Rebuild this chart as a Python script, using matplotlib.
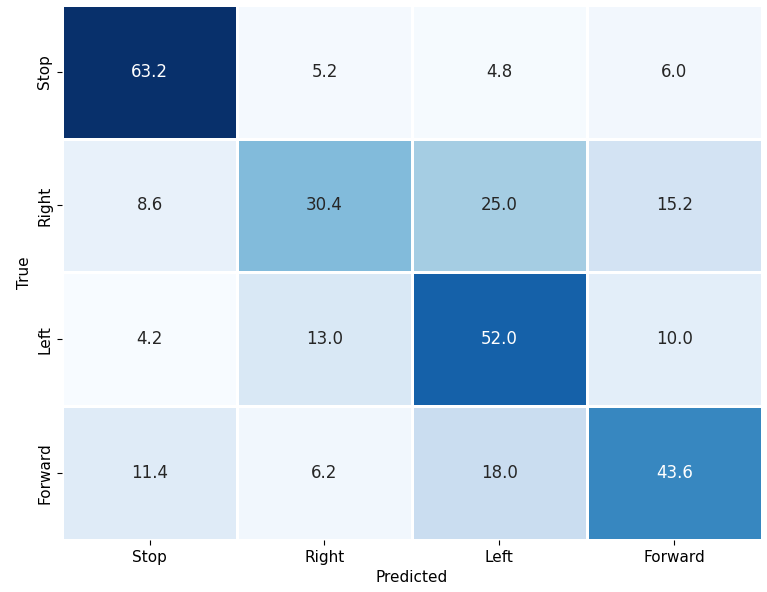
import numpy as np
import matplotlib
matplotlib.use("Agg")
import matplotlib.pyplot as plt
import seaborn as sns

labels = ["Stop", "Right", "Left", "Forward"]
values = np.array([
    [63.2, 5.2, 4.8, 6.0],
    [8.6, 30.4, 25.0, 15.2],
    [4.2, 13.0, 52.0, 10.0],
    [11.4, 6.2, 18.0, 43.6],
])

fig = plt.figure(figsize=(7.67, 5.92), dpi=100)
ax = fig.add_axes([0.081, 0.088, 0.912, 0.904])
sns.heatmap(values, annot=True, fmt=".1f", cmap="Blues", cbar=False,
            linewidths=1, linecolor="white",
            xticklabels=labels, yticklabels=labels, ax=ax,
            annot_kws={"size": 12})
ax.set_xlabel("Predicted", fontsize=11)
ax.set_ylabel("True", fontsize=11)
ax.tick_params(labelsize=11)
plt.setp(ax.get_yticklabels(), rotation=90, va="center")
fig.savefig("out.png", dpi=100)
